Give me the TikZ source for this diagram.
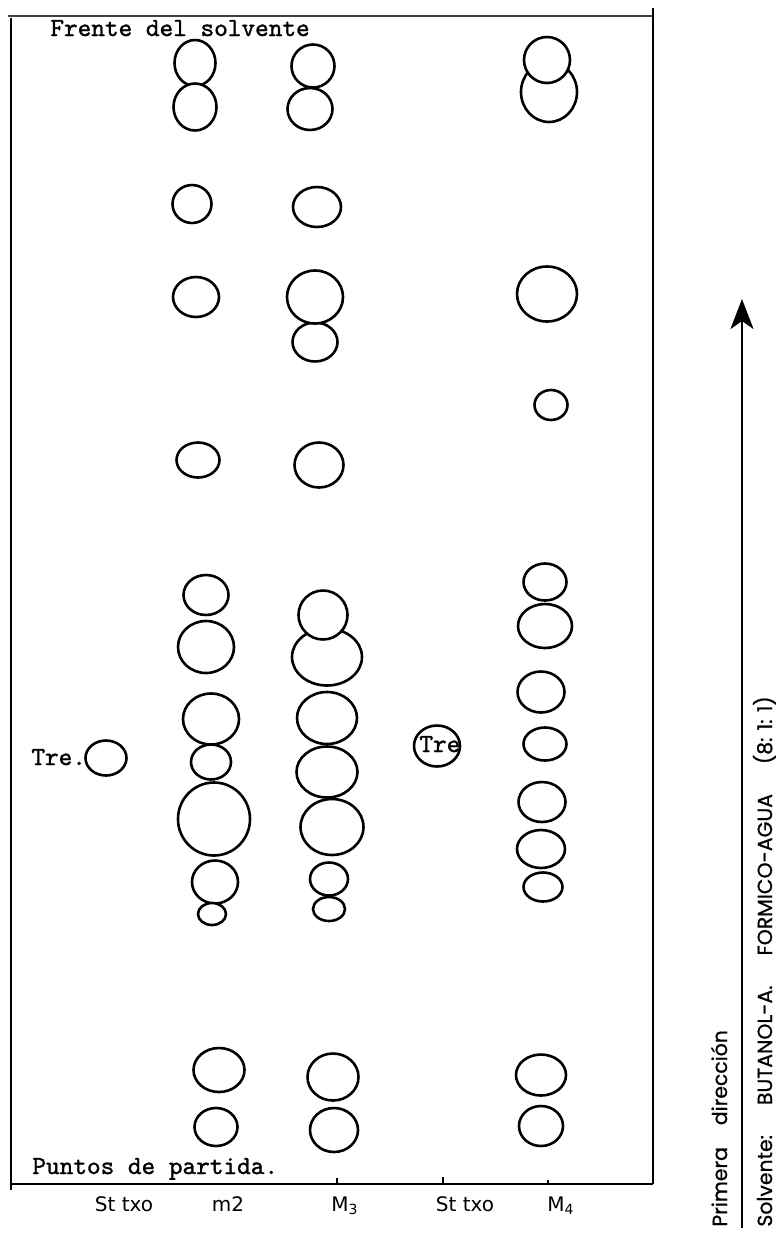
\documentclass[tikz,border=0pt]{standalone}
\usepackage{fontspec}
\setmonofont{lmmono10-regular.otf}[FakeBold=1.2]
\newfontfamily\handfont{DejaVu Sans}
\newfontfamily\capfont{Poppins}[FakeBold=0.8]
\usetikzlibrary{shapes.geometric,arrows.meta}
\tikzset{
  spotstyle/.style={ellipse, draw, fill=white, inner sep=0pt, outer sep=0pt, line width=1.3pt},
  typed/.style={font=\ttfamily\fontsize{13}{14}\selectfont, inner sep=0pt, anchor=base west},
  lanelabel/.style={font=\handfont\fontsize{10}{11}\selectfont, inner sep=0pt, anchor=base},
  framerule/.style={line width=1pt},
  toprule/.style={line width=0.8pt, black!75},
  tickmark/.style={line width=0.7pt},
  sidenote/.style={font=\capfont\fontsize{10.2}{11}\selectfont, rotate=90, anchor=base west, inner sep=0pt},
  flowarrow/.style={line width=1.3pt, -{Stealth[length=15pt, width=11.5pt, inset=4pt]}},
}
% one chromatogram spot: name, x, y, x radius, y radius (in px units)
\newcommand\tlcspot[5]{\node[spotstyle, minimum width=#4pt, minimum height=#5pt] (#1) at (#2,#3) {};}

\begin{document}
\begin{tikzpicture}[x=0.5pt, y=-0.5pt]
\useasboundingbox (0,0) rectangle (781,1233);

% ---- plate frame ----
\coordinate (ftl) at (8,16);
\coordinate (ftr) at (653,16);
\coordinate (rtop) at (653,8);
\coordinate (ltop) at (11,18);
\coordinate (lbot) at (11,1190);
\coordinate (bl) at (11,1184);
\coordinate (br) at (653,1184);
\draw[toprule] (ftl) -- (ftr);
\draw[framerule] (ltop) -- (lbot);
\draw[framerule] (rtop) -- (br);
\draw[framerule] (bl) -- (br);

% ticks on the origin line
\coordinate (tk3) at (337,1184);
\coordinate (tk4) at (443,1184);
\coordinate (tk5) at (548,1184);
\draw[tickmark] (tk3) -- ++(0,-6);
\draw[tickmark] (tk4) -- ++(0,-7);
\draw[tickmark] (tk5) -- ++(0,-4);

% ---- lane M2 ----
\tlcspot{ma1}{195}{63}{20.5}{23}
\tlcspot{ma2}{195}{107}{21.5}{23.5}
\tlcspot{ma3}{192}{204}{19.5}{19}
\tlcspot{ma4}{196}{297}{23}{20}
\tlcspot{ma5}{198}{460}{21.5}{17.5}
\tlcspot{ma6}{206}{595}{22.5}{20}
\tlcspot{ma7}{206}{647}{28}{26}
\tlcspot{ma8}{211}{719}{28}{25.5}
\tlcspot{ma9}{211}{762}{20}{17.5}
\tlcspot{ma10}{214}{819}{36}{36.5}
\tlcspot{ma11}{215}{882}{23}{21.5}
\tlcspot{ma12}{212}{914}{14}{11}
\tlcspot{ma13}{219}{1070}{25.5}{22}
\tlcspot{ma14}{216}{1127}{21.5}{19}

% ---- lane M3 ----
\tlcspot{mb1}{313}{66}{21.5}{21.5}
\tlcspot{mb2}{310}{109}{22.5}{21}
\tlcspot{mb3}{317}{207}{24}{20}
\tlcspot{mb5}{315}{342}{22.5}{19.5}
\tlcspot{mb4}{315}{297}{28}{26.5}
\tlcspot{mb6}{319}{465}{24.5}{22.5}
\tlcspot{mb8}{327}{657}{35}{28.5}
\tlcspot{mb7}{323}{615}{24.5}{24.5}
\tlcspot{mb9}{327}{718}{30}{26}
\tlcspot{mb10}{327}{772}{30.5}{25.5}
\tlcspot{mb11}{332}{827}{31.5}{28}
\tlcspot{mb12}{329}{879}{19}{16.5}
\tlcspot{mb13}{329}{909}{16}{12}
\tlcspot{mb14}{333}{1077}{25.5}{23.5}
\tlcspot{mb15}{334}{1130}{24}{22}

% ---- lane M4 ----
\tlcspot{mc2}{549}{92}{28}{30}
\tlcspot{mc1}{547}{60}{23}{23}
\tlcspot{mc3}{547}{294}{30}{27.5}
\tlcspot{mc4}{551}{405}{16.5}{15}
\tlcspot{mc5}{545}{582}{21.5}{18.5}
\tlcspot{mc6}{545}{626}{27}{22}
\tlcspot{mc7}{541}{692}{23.5}{20.5}
\tlcspot{mc8}{545}{744}{21.5}{16.5}
\tlcspot{mc9}{542}{802}{23.5}{20}
\tlcspot{mc10}{541}{849}{24}{19}
\tlcspot{mc11}{543}{887}{19.5}{14.5}
\tlcspot{mc12}{541}{1075}{25}{20.5}
\tlcspot{mc13}{541}{1126}{22}{20}

% ---- reference spots ----
\tlcspot{std1}{106}{758}{20.5}{17.5}
\tlcspot{std2}{437}{746}{23}{20.5}
\node[typed] (tre1) at (31,765) {Tre.};
\node[typed] (tre2) at (419,752) {Tre};

% ---- typed captions ----
\node[typed] (front) at (50,36) {Frente del solvente};
\node[typed] (origin) at (32,1174) {Puntos de partida.};

% ---- lane labels ----
\node[lanelabel] (lab1) at (124,1211) {St txo};
\node[lanelabel] (lab2) at (228,1211) {m2};
\node[lanelabel] (lab3) at (345,1211) {M\textsubscript{3}};
\node[lanelabel] (lab4) at (465,1211) {St txo};
\node[lanelabel] (lab5) at (561,1211) {M\textsubscript{4}};

% ---- direction arrow and notes ----
\coordinate (afoot) at (742,1228);
\coordinate (atip) at (742,299);
\draw[flowarrow] (afoot) -- (atip);
\node[sidenote] (dir) at (727,1227) {Primera\hspace{11pt}dirección};
\node[sidenote] (solv) at (772,1227) {Solvente:\hspace{15pt}BUTANOL-A.\hspace{15pt}FORMICO-AGUA\hspace{15pt}(8: 1: 1)};
\end{tikzpicture}
\end{document}
